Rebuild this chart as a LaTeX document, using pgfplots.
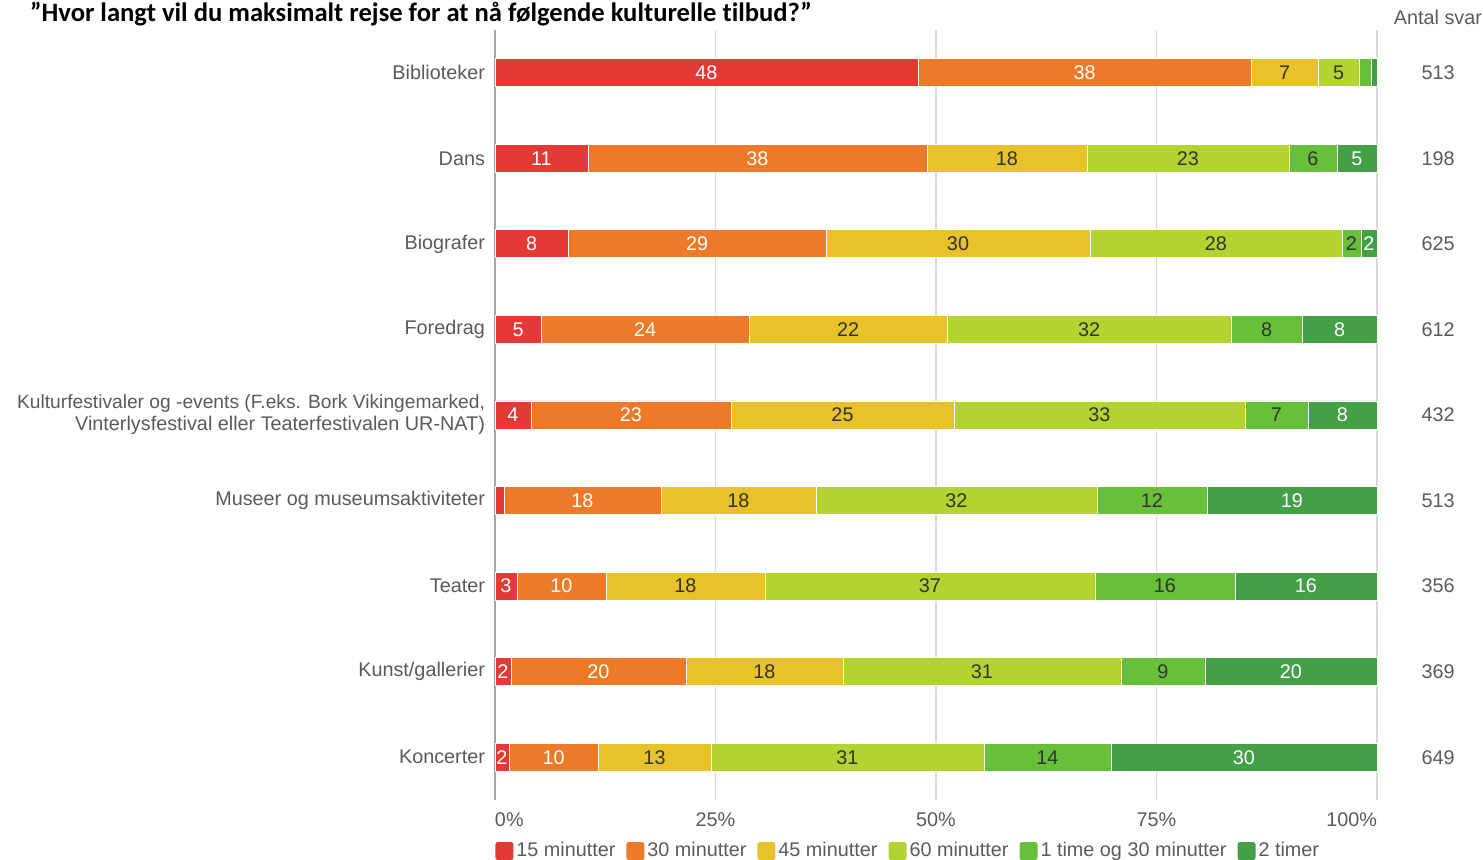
\documentclass[border=0pt]{standalone}
\usepackage{pgfplots}
\usepackage{pgfplotstable}
\usepackage{fontspec}
\pgfplotsset{compat=1.18}
\setmainfont{Liberation Sans}
\newfontfamily\titlefont[Ligatures=NoCommon]{Carlito}

\definecolor{c1}{HTML}{E53935}
\definecolor{c2}{HTML}{EC7A28}
\definecolor{c3}{HTML}{E8C22A}
\definecolor{c4}{HTML}{B3D430}
\definecolor{c5}{HTML}{68BF3A}
\definecolor{c6}{HTML}{43A047}
\definecolor{txt}{HTML}{5A5A5A}
\definecolor{dk}{HTML}{333333}

\pgfplotsset{sq legend/.style={legend image code/.code={%
  \draw[##1, draw=none, rounded corners=1.2pt] (0pt,-4.5pt) rectangle (9pt,4.5pt);}}}

% shares in percent, rows top to bottom; l* = printed labels
\pgfplotstableread{
idx a b c d e f la lb lc ld le lf
0 47.96 37.76 7.60 4.65 1.36 0.67 48 38 7 5 {} {}
1 10.54 38.44 18.14 22.90 5.44 4.54 11 38 18 23 6 5
2 8.28 29.25 29.93 28.57 2.15 1.82 8 29 30 28 2 2
3 5.22 23.58 22.45 32.20 8.05 8.50 5 24 22 32 8 8
4 4.08 22.68 25.28 32.99 7.14 7.83 4 23 25 33 7 8
5 1.02 17.80 17.57 31.86 12.47 19.28 {} 18 18 32 12 19
6 2.49 10.09 18.03 37.41 15.87 16.11 3 10 18 37 16 16
7 1.81 19.84 17.80 31.52 9.52 19.51 2 20 18 31 9 20
8 1.59 10.09 12.81 30.95 14.40 30.16 2 10 13 31 14 30
}\data

\newcommand{\seg}[3]{%
  \addplot[fill=#2, draw=white, line width=0.4pt, sq legend,
    nodes near coords, point meta=explicit symbolic,
    nodes near coords style={text=#3}]
    table[x=#1, y=idx, meta=l#1] {\data};}

\begin{document}
\begin{tikzpicture}
\begin{axis}[
    scale only axis, width=441pt, height=385pt, clip=false,
    xbar stacked, bar width=14pt,
    xmin=0, xmax=100, ymin=-0.5, ymax=8.5, y dir=reverse,
    font=\fontsize{9.9}{11}\selectfont,
    axis y line*=left, axis x line*=bottom,
    x axis line style={draw=none},
    y axis line style={draw=gray!70, line width=0.8pt},
    major tick length=0pt,
    xmajorgrids, grid style={draw=gray!30, line width=0.6pt},
    xtick={0,25,50,75,100},
    xticklabels={\makebox[0pt][l]{0\%},25\%,50\%,75\%,\makebox[0pt][r]{100\%}},
    xticklabel style={text=txt, yshift=-3pt},
    ytick={0,...,8},
    yticklabels={Biblioteker,Dans,Biografer,Foredrag,
      {\fontsize{9.6}{11}\selectfont Kulturfestivaler og -events (F.eks. Bork Vikingemarked,\\Vinterlysfestival eller Teaterfestivalen UR-NAT)},
      Museer og museumsaktiviteter,Teater,Kunst/gallerier,Koncerter},
    yticklabel style={text=txt, align=right, xshift=-1.5pt},
    every node near coord/.append style={anchor=center, font=\fontsize{9.9}{11}\selectfont},
    legend columns=6,
    legend style={at={(0,0)}, anchor=north west, yshift=-19.5pt, draw=none, fill=none,
      inner sep=0pt, font=\fontsize{9.9}{11}\selectfont, text=txt,
      nodes={inner sep=1.5pt},
      /tikz/every even column/.append style={column sep=4pt}},
]
\seg{a}{c1}{white}
\seg{b}{c2}{white}
\seg{c}{c3}{dk}
\seg{d}{c4}{dk}
\seg{e}{c5}{dk}
\seg{f}{c6}{white}
\legend{15 minutter,30 minutter,45 minutter,60 minutter,1 time og 30 minutter,2 timer}
\node[anchor=base west, font=\titlefont\bfseries\fontsize{13.3}{15}\selectfont]
  at (rel axis cs:0,1) [xshift=-236pt, yshift=4pt]
  {”Hvor langt vil du maksimalt rejse for at nå følgende kulturelle tilbud?”};
\node[anchor=base, text=txt] at (rel axis cs:1,1) [xshift=30.5pt, yshift=2.5pt] {Antal svar};
\end{axis}
\begin{axis}[
    scale only axis, width=441pt, height=385pt,
    xmin=0, xmax=100, ymin=-0.5, ymax=8.5, y dir=reverse,
    font=\fontsize{9.9}{11}\selectfont,
    hide x axis, axis y line*=right, y axis line style={draw=none},
    major tick length=0pt,
    ytick={0,...,8},
    yticklabels={513,198,625,612,432,513,356,369,649},
    yticklabel style={text=txt, anchor=center, xshift=30.5pt},
]
\end{axis}
\pgfresetboundingbox
\path (current axis.south west) +(-247.5pt,-30pt) coordinate (bl);
\path (current axis.north east) +(53pt,15pt) coordinate (tr);
\path[use as bounding box] (bl) rectangle (tr);
\end{tikzpicture}
\end{document}
